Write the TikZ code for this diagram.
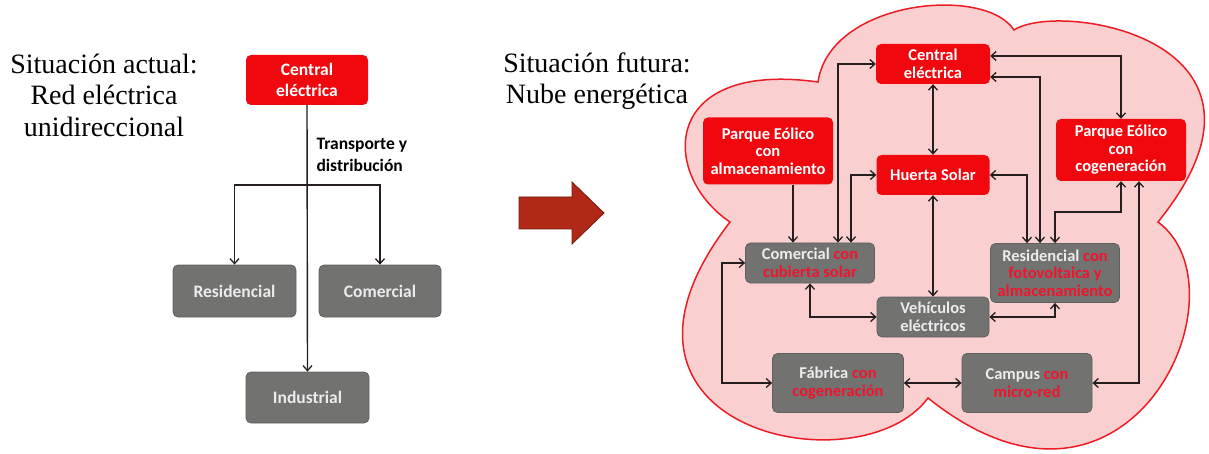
\documentclass[tikz,border=0pt]{standalone}
\usepackage{amsmath,amssymb}
\usepackage{fontspec}
\setmainfont{Liberation Serif}
\newfontfamily\calfont{Carlito}
\usepackage{tikz}
\usetikzlibrary{arrows.meta}

\definecolor{cloudfill}{RGB}{249,207,207}
\definecolor{cloudline}{RGB}{236,28,36}
\definecolor{boxred}{RGB}{240,8,14}
\definecolor{boxgray}{RGB}{114,114,112}
\definecolor{grayedge}{RGB}{96,96,94}
\definecolor{graytext}{RGB}{236,236,236}
\definecolor{redtext}{RGB}{240,20,44}
\definecolor{linecol}{RGB}{36,30,30}
\definecolor{bigarrow}{RGB}{176,40,22}
\definecolor{bigarrowedge}{RGB}{112,26,14}

\begin{document}
\begin{tikzpicture}[x=1pt,y=-1pt,
  >={Straight Barb[length=5pt,width=9pt,line width=1.3pt]},
  conn/.style={draw=linecol,line width=1.4pt},
  title/.style={align=center,font=\fontsize{28}{31.5}\selectfont},
  bigfont/.style={font=\calfont\bfseries\fontsize{17.5}{21.5}\selectfont},
  smallfont/.style={font=\calfont\bfseries\fontsize{16.5}{17.5}\selectfont},
  redbox/.style={fill=boxred,rounded corners=5pt,text=white,align=center,inner sep=0pt},
  graybox/.style={fill=boxgray,draw=grayedge,line width=0.8pt,rounded corners=5pt,text=graytext,align=center,inner sep=0pt}]
\useasboundingbox (0,0) rectangle (1209,454);

% cloud
\draw[cloudline,fill=cloudfill,line width=1.5pt] (818,82) .. controls (830,0) and (985,-15) .. (1014,30) .. controls (1060,0) and (1305,40) .. (1158,222) .. controls (1250,290) and (1130,560) .. (928,398) .. controls (860,490) and (570,430) .. (730,222) .. controls (660,175) and (660,60) .. (818,82) -- cycle;

% titles
\node[title] (tit1) at (104,95) {Situación actual:\\Red eléctrica\\unidireccional};
\node[title] (tit2) at (597,81) {Situación futura:\\Nube energética};

% big arrow
\draw[fill=bigarrow,draw=bigarrowedge,line width=0.8pt] (519,197) -- (572,197) -- (572,182) -- (604,213) -- (572,244) -- (572,229) -- (519,229) -- cycle;

% left: red network
\node[redbox,bigfont,minimum width=122pt,minimum height=50pt] (cen1) at (307,80) {Central\\eléctrica};
\node[graybox,bigfont,minimum width=123pt,minimum height=52pt] (res1) at (234.5,291) {Residencial};
\node[graybox,bigfont,minimum width=122pt,minimum height=52pt] (com1) at (380,291) {Comercial};
\node[graybox,bigfont,minimum width=123pt,minimum height=51pt] (ind1) at (307.5,397.5) {Industrial};
\node[bigfont,align=left,anchor=west] (tyd) at (313,155) {Transporte y\\distribución};
\coordinate (split) at (307,185);

\draw[conn,->] (cen1.south) -- (ind1.north);
\draw[conn,->] (split) -| (res1.north);
\draw[conn,->] (split) -| (com1.north);

% right: nube
\node[redbox,smallfont,minimum width=114pt,minimum height=40pt] (cen2) at (933,64) {Central\\eléctrica};
\node[redbox,smallfont,minimum width=130pt,minimum height=67pt] (pea) at (768,151) {Parque Eólico\\con\\almacenamiento};
\node[redbox,smallfont,minimum width=113pt,minimum height=40pt] (hue) at (933,175) {Huerta Solar};
\node[redbox,smallfont,minimum width=130pt,minimum height=62pt] (pec) at (1121,150) {Parque Eólico\\con\\cogeneración};
\node[graybox,smallfont,minimum width=129pt,minimum height=40pt] (com2) at (810,263) {Comercial \textcolor{redtext}{con}\\\textcolor{redtext}{cubierta solar}};
\node[graybox,smallfont,minimum width=129pt,minimum height=59pt] (res2) at (1055,273) {Residencial \textcolor{redtext}{con}\\\textcolor{redtext}{fotovoltaica y}\\\textcolor{redtext}{almacenamiento}};
\node[graybox,smallfont,minimum width=112pt,minimum height=40pt] (veh) at (933,317) {Vehículos\\eléctricos};
\node[graybox,smallfont,minimum width=131pt,minimum height=59pt] (fab) at (838,383) {Fábrica \textcolor{redtext}{con}\\\textcolor{redtext}{cogeneración}};
\node[graybox,smallfont,minimum width=130pt,minimum height=59pt] (cam) at (1027,383) {Campus \textcolor{redtext}{con}\\\textcolor{redtext}{micro-red}};

% comercial
\draw[conn,->] ([xshift=25pt]pea.south) -- ([xshift=-17pt]com2.north);
\draw[conn,<->] ([xshift=28pt]com2.north) |- (cen2.west);
\draw[conn,<->] ([xshift=41pt]com2.north) |- (hue.west);
\draw[conn,<->] (com2.south) |- (veh.west);
\draw[conn,<->] (com2.west) -- ++(-23,0) |- (fab.west);

% central / huerta
\draw[conn,<->] (cen2.south) -- (hue.north);
\draw[conn,<->] (hue.south) -- (veh.north);
\draw[conn,<->] ([yshift=8pt]cen2.east) -| (pec.north);

% residencial
\draw[conn,<->] (hue.east) -| ([xshift=-28pt]res2.north);
\draw[conn,<->] ([yshift=-13pt]cen2.east) -| ([xshift=-15pt]res2.north);
\draw[conn,<->] (res2.north) |- ([yshift=-31pt]pec.south) -- (pec.south);
\draw[conn,<->] (veh.east) -| (res2.south);

% campus / fabrica
\draw[conn,<->] ([xshift=18pt]pec.south) |- (cam.east);
\draw[conn,<->] (fab.east) -- (cam.west);
\end{tikzpicture}
\end{document}
